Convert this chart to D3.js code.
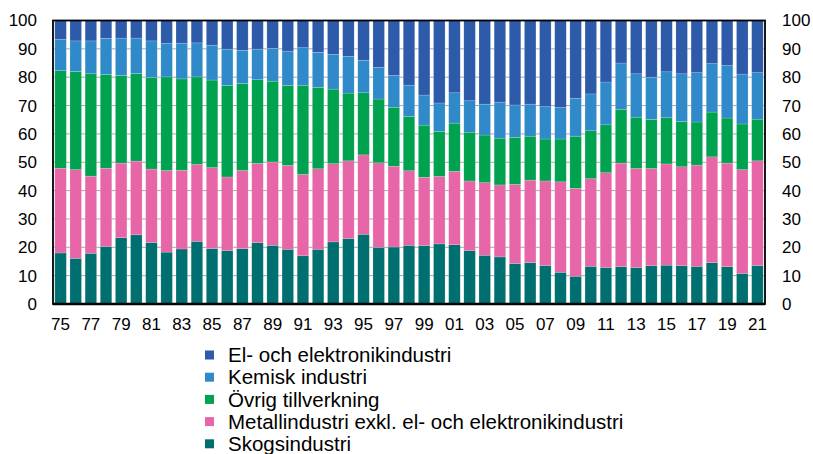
<!DOCTYPE html>
<html>
<head>
<meta charset="utf-8">
<script src="https://cdn.jsdelivr.net/npm/d3@7"></script>
<style>
  body { margin: 0; background: #fff; }
  text { font-family: "Liberation Sans", Arial, sans-serif; fill: #000; }
</style>
</head>
<body>
<div id="chart"></div>
<script>
// svg container
var svgWidth = 813;
var svgHeight = 454;

var margin = { top: 20.5, right: 48, bottom: 150, left: 53 };
var chartWidth = svgWidth - margin.left - margin.right;
var chartHeight = svgHeight - margin.top - margin.bottom;

// data (percent of manufacturing)
var years = d3.range(1975, 2022);
var seriesNames = ["Skogsindustri", "Metallindustri exkl. el- och elektronikindustri",
                   "Övrig tillverkning", "Kemisk industri", "El- och elektronikindustri"];
var colors = ["#006f6f", "#e766a8", "#00a14f", "#3089c9", "#2d5aa9"];

var skog = [18.0, 16.1, 17.9, 20.3, 23.4, 24.4, 21.7, 18.3, 19.4, 22.1, 19.6, 18.9, 19.5, 21.6, 20.7, 19.3,
            17.0, 19.3, 21.9, 23.1, 24.6, 20.0, 20.1, 20.7, 20.6, 21.2, 20.9, 18.9, 17.2, 16.6, 14.3, 14.6,
            13.6, 11.2, 9.8, 13.3, 12.9, 13.2, 12.9, 13.5, 13.7, 13.5, 13.3, 14.6, 13.2, 10.8, 13.6];
var metall = [29.9, 31.3, 27.2, 27.6, 26.3, 26.0, 25.9, 28.8, 27.8, 27.1, 28.5, 25.9, 27.6, 28.0, 29.4, 29.6,
              28.7, 28.4, 27.6, 27.4, 28.0, 29.8, 28.5, 26.3, 24.1, 23.8, 25.9, 24.5, 25.6, 25.4, 27.9, 29.1,
              29.8, 31.9, 31.0, 30.9, 33.4, 36.5, 34.9, 34.3, 35.7, 34.9, 35.7, 37.3, 36.5, 36.6, 36.9];
var ovrig = [34.4, 34.6, 36.1, 33.1, 30.9, 30.9, 32.3, 33.0, 32.2, 30.9, 30.9, 32.3, 30.7, 29.5, 28.5, 28.2,
             31.3, 28.7, 26.3, 23.9, 21.9, 22.5, 20.8, 19.2, 18.4, 15.9, 17.0, 17.2, 16.8, 16.5, 16.6, 15.5,
             14.8, 15.1, 18.4, 16.9, 16.9, 19.0, 18.1, 17.3, 16.3, 16.0, 15.2, 15.8, 15.9, 16.1, 14.7];
var kemisk = [11.1, 10.8, 11.6, 12.7, 13.2, 12.5, 12.9, 11.9, 12.6, 12.0, 12.3, 12.8, 11.7, 10.8, 11.6, 12.1,
              13.4, 12.4, 12.3, 13.0, 11.5, 11.2, 11.2, 11.0, 10.6, 10.0, 10.7, 11.1, 10.9, 12.7, 11.4, 11.3,
              11.4, 11.1, 13.4, 13.0, 15.1, 16.3, 15.3, 14.9, 16.2, 16.8, 17.4, 17.1, 18.5, 17.6, 16.4];
var el = [6.6, 7.2, 7.2, 6.3, 6.2, 6.2, 7.2, 8.0, 8.0, 7.9, 8.7, 10.1, 10.5, 10.1, 9.8, 10.8,
          9.6, 11.2, 11.9, 12.6, 14.0, 16.5, 19.4, 22.8, 26.3, 29.1, 25.5, 28.3, 29.5, 28.8, 29.8, 29.5,
          30.4, 30.7, 27.4, 25.9, 21.7, 15.0, 18.8, 20.0, 18.1, 18.8, 18.4, 15.2, 15.9, 18.9, 18.4];
var yTicks = d3.range(0, 101, 10);

var seriesValues = [skog, metall, ovrig, kemisk, el];

// table for d3.stack
var table = years.map(function(y, i) {
    var row = { year: y };
    seriesNames.forEach(function(name, s) { row[name] = seriesValues[s][i]; });
    return row;
});

var stacked = d3.stack().keys(seriesNames)(table);

var svg = d3.select("#chart")
            .append("svg")
            .attr("width", svgWidth)
            .attr("height", svgHeight);

var chartGroup = svg.append("g").attr("transform", `translate(${margin.left}, ${margin.top})`);

var xScale = d3.scaleBand()
               .domain(years)
               .range([0, chartWidth])
               .paddingInner(0.24)
               .paddingOuter(0.12);

var yScale = d3.scaleLinear()
               .domain([0, 100])
               .range([chartHeight, 0]);

// gridlines
chartGroup.append("g")
    .selectAll("line")
    .data(yTicks.slice(1, -1))
    .enter()
    .append("line")
    .attr("x1", 0)
    .attr("x2", chartWidth)
    .attr("y1", d => yScale(d))
    .attr("y2", d => yScale(d))
    .attr("stroke", "#a6a6a6")
    .attr("stroke-width", 1);

// bars
chartGroup.append("g")
    .selectAll("g")
    .data(stacked)
    .enter()
    .append("g")
    .attr("fill", (d, i) => colors[i])
    .selectAll("rect")
    .data(d => d)
    .enter()
    .append("rect")
    .attr("x", d => xScale(d.data.year))
    .attr("width", xScale.bandwidth())
    .attr("y", d => yScale(Math.min(100, d[1])))
    .attr("height", d => yScale(d[0]) - yScale(Math.min(100, d[1])))
    .attr("stroke", "rgba(255,255,255,0.35)")
    .attr("stroke-width", 0.5);

// axes
var yLeft = d3.axisLeft(yScale).tickValues(yTicks).tickSize(0).tickPadding(16);
var yRight = d3.axisRight(yScale).tickValues(yTicks).tickSize(0).tickPadding(17);
var xAxis = d3.axisBottom(xScale)
              .tickValues(years.filter((y, i) => i % 2 === 0))
              .tickFormat(d => String(d).slice(2))
              .tickSize(0)
              .tickPadding(14);

var gl = chartGroup.append("g").call(yLeft);
var gr = chartGroup.append("g").attr("transform", `translate(${chartWidth}, 0)`).call(yRight);
var gx = chartGroup.append("g").attr("transform", `translate(0, ${chartHeight})`).call(xAxis);

[gl, gr, gx].forEach(function(g) {
    g.select(".domain").remove();
    g.selectAll("text").style("font-size", "17px").attr("fill", "#000");
});

// frame
chartGroup.append("rect")
    .attr("x", 0)
    .attr("y", 0)
    .attr("width", chartWidth)
    .attr("height", chartHeight)
    .attr("fill", "none")
    .attr("stroke", "#000")
    .attr("stroke-width", 1.8);

chartGroup.append("line")
    .attr("x1", 0)
    .attr("x2", chartWidth)
    .attr("y1", chartHeight)
    .attr("y2", chartHeight)
    .attr("stroke", "#000")
    .attr("stroke-width", 2.6);

// legend (top to bottom: El, Kemisk, Övrig, Metall, Skog)
var legend = svg.append("g").attr("transform", "translate(205, 355)");
var order = [4, 3, 2, 1, 0];
var items = legend.selectAll("g")
    .data(order)
    .enter()
    .append("g")
    .attr("transform", (d, i) => `translate(0, ${i * 22.2})`);

items.append("rect")
    .attr("x", 0)
    .attr("y", -4.5)
    .attr("width", 9)
    .attr("height", 9)
    .attr("fill", d => colors[d]);

items.append("text")
    .attr("x", 23)
    .attr("y", 0)
    .attr("dy", "0.35em")
    .style("font-size", "20.5px")
    .text(d => seriesNames[d]);
</script>
</body>
</html>
